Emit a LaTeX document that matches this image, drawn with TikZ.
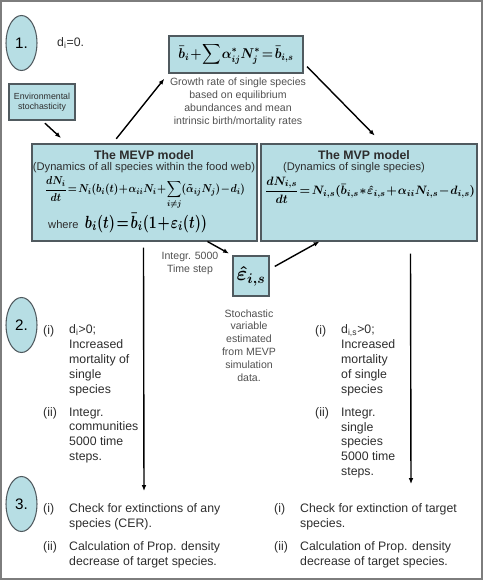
\documentclass[tikz,border=0pt]{standalone}
\usepackage{amsmath}
\usepackage{bm}
\usepackage{fontspec}
\setmainfont{Liberation Sans}
\usetikzlibrary{shapes.geometric}
\usetikzlibrary{positioning}
\usetikzlibrary{calc}
\usetikzlibrary{arrows.meta}
\definecolor{boxfill}{RGB}{183,222,228}
\definecolor{boxline}{RGB}{80,90,95}
\definecolor{framegray}{RGB}{125,125,125}
\definecolor{notegray}{RGB}{80,80,80}
\definecolor{bodygray}{RGB}{45,45,45}
\newcommand{\tightmath}{\medmuskip=1mu\thickmuskip=2mu\thinmuskip=1mu}
\tikzset{
  modelbox/.style={draw=boxline, fill=boxfill, line width=0.9pt, inner sep=0pt},
  stepnum/.style={ellipse, draw=boxline, fill=boxfill, line width=0.9pt, inner sep=0pt,
    minimum width=0.93cm, minimum height=1.65cm, font=\fontsize{13}{15}\selectfont},
  bodytext/.style={align=left, anchor=west, inner sep=0pt, text=bodygray,
    font=\fontsize{10.5}{12.75}\selectfont},
  notetext/.style={align=center, inner sep=0pt, text=notegray,
    font=\fontsize{9}{11}\selectfont},
  eqn/.style={inner sep=0pt, font=\boldmath\fontsize{11}{13}\selectfont},
  flow/.style={-{Latex[length=5pt,width=4pt]}, line width=1.2pt}
}

\begin{document}
\begin{tikzpicture}[x=0.03cm, y=-0.03cm]
\useasboundingbox (0,0) rectangle (483,580);
\draw [framegray, line width=1.1pt] (1,1) rectangle (482,579);

% step numbers
\foreach \n/\y in {1/43, 2/325, 3/504} {
  \node [stepnum] (step\n) at (21.5,\y) {\n.};
}
\node [bodytext] (dzero) at (57,43) {d\textsubscript{i}=0.};

% growth rate of single species
\node [modelbox, minimum width=4.02cm, minimum height=1.11cm, font=\boldmath\fontsize{12}{14}\selectfont]
  (growth) at (236,54.5) {\resizebox*{3.45cm}{0.68cm}{$\tightmath\bar{b}_i+\displaystyle\sum\alpha^{*}_{ij}N^{*}_j=\bar{b}_{i,s}$}};
\node [notetext] (growthnote) at (238,102.5) {Growth rate of single species\\ based on equilibrium\\ abundances and mean\\ intrinsic birth/mortality rates};

\node [modelbox, minimum width=1.98cm, minimum height=1.08cm, align=center, text=bodygray,
  font=\fontsize{7.5}{9}\selectfont] (envbox) at (42,102) {Environmental\\ stochasticity};

% the two models
\node [modelbox, minimum width=6.75cm, minimum height=2.91cm] (mevp) at (144.5,192.5) {};
\node [modelbox, minimum width=6.48cm, minimum height=2.91cm] (mvp) at (369,192.5) {};

\node [inner sep=0pt, font=\bfseries\fontsize{10.5}{12}\selectfont, text=bodygray] (mevptitle) at (144,155) {The MEVP model};
\node [inner sep=0pt, font=\fontsize{9.5}{11}\selectfont, text=bodygray] (mevpsub) at (144,168) {(Dynamics of all species within the food web)};
\node [eqn] (mevpeq) at (145,193) {\resizebox*{6cm}{1cm}{$\tightmath\displaystyle\frac{dN_i}{dt}=N_i(b_i(t)+\alpha_{ii}N_i+\sum_{i\neq j}(\tilde{\alpha}_{ij}N_j)-d_i)$}};
\node [eqn, anchor=west] (mevpwhere) at (48,223) {{\fontsize{9.5}{11}\selectfont\color{bodygray}where}\enspace \resizebox*{3.66cm}{0.58cm}{$\tightmath b_i(t)=\bar{b}_i(1+\varepsilon_i(t))$}};

\node [inner sep=0pt, font=\bfseries\fontsize{10.5}{12}\selectfont, text=bodygray] (mvptitle) at (364,155) {The MVP model};
\node [inner sep=0pt, font=\fontsize{9.5}{11}\selectfont, text=bodygray] (mvpsub) at (354,168) {(Dynamics of single species)};
\node [eqn] (mvpeq) at (370,190) {\resizebox*{6.3cm}{0.8cm}{$\tightmath\displaystyle\frac{dN_{i,s}}{dt}=N_{i,s}(\bar{b}_{i,s}*\hat{\varepsilon}_{i,s}+\alpha_{ii}N_{i,s}-d_{i,s})$}};

% stochastic variable
\node [modelbox, minimum width=1.08cm, minimum height=1.2cm, font=\boldmath\fontsize{17}{19}\selectfont]
  (eps) at (251,276) {$\hat{\bm{\varepsilon}}_{i,s}$};
\node [notetext] (integrnote) at (190,263.5) {Integr. 5000\\ Time step};
\node [notetext] (epsnote) at (249,345.5) {Stochastic\\ variable\\ estimated\\ from MEVP\\ simulation\\ data.};

% step 2
\node [bodytext] (l2i) at (43,331) {(i)};
\node [bodytext] (l2itext) at (69,360.5) {d\textsubscript{i}>0;\\ Increased\\ mortality of\\ single\\ species};
\node [bodytext] (l2ii) at (43,413) {(ii)};
\node [bodytext] (l2iitext) at (69,435.5) {Integr.\\ communities\\ 5000 time\\ steps.};
\node [bodytext] (r2i) at (315,331) {(i)};
\node [bodytext] (r2itext) at (341,360.5) {d\textsubscript{i,s}>0;\\ Increased\\ mortality\\ of single\\ species};
\node [bodytext] (r2ii) at (315,413) {(ii)};
\node [bodytext] (r2iitext) at (341,443) {Integr.\\ single\\ species\\ 5000 time\\ steps.};

% step 3
\node [bodytext] (l3i) at (43,509) {(i)};
\node [bodytext] (l3itext) at (69,516.5) {Check for extinctions of any\\ species (CER).};
\node [bodytext] (l3ii) at (43,547) {(ii)};
\node [bodytext] (l3iitext) at (69,554.5) {Calculation of Prop. density\\ decrease of target species.};
\node [bodytext] (r3i) at (274,509) {(i)};
\node [bodytext] (r3itext) at (300,516.5) {Check for extinction of target\\ species.};
\node [bodytext] (r3ii) at (274,547) {(ii)};
\node [bodytext] (r3iitext) at (300,554.5) {Calculation of Prop. density\\ decrease of target species.};

% connectors
\coordinate (envend) at (61,138);
\coordinate (leftend) at (144,491);
\coordinate (rightend) at (411,484);
\draw [flow, shorten <=1.2mm] (envbox.south) -- (envend);
\draw [flow, shorten <=1.8mm, shorten >=2mm] ([xshift=2.43cm]mevp.north west) -- (growth.south west);
\draw [flow, shorten <=1.5mm, shorten >=3.3mm] ([yshift=-0.255cm]growth.east) -- ([xshift=3.66cm]mvp.north west);
\draw [flow, shorten >=1.2mm] ([xshift=5.28cm]mevp.south west) -- (eps.north west);
\draw [flow, shorten <=1.8mm] ([yshift=0.2cm]eps.east) -- ([xshift=1.77cm]mvp.south west);
\draw [flow, shorten <=0.18cm] ([xshift=3.36cm]mevp.south west) -- (leftend);
\draw [flow, shorten <=0.36cm] ([xshift=4.5cm]mvp.south west) -- (rightend);
\end{tikzpicture}
\end{document}
